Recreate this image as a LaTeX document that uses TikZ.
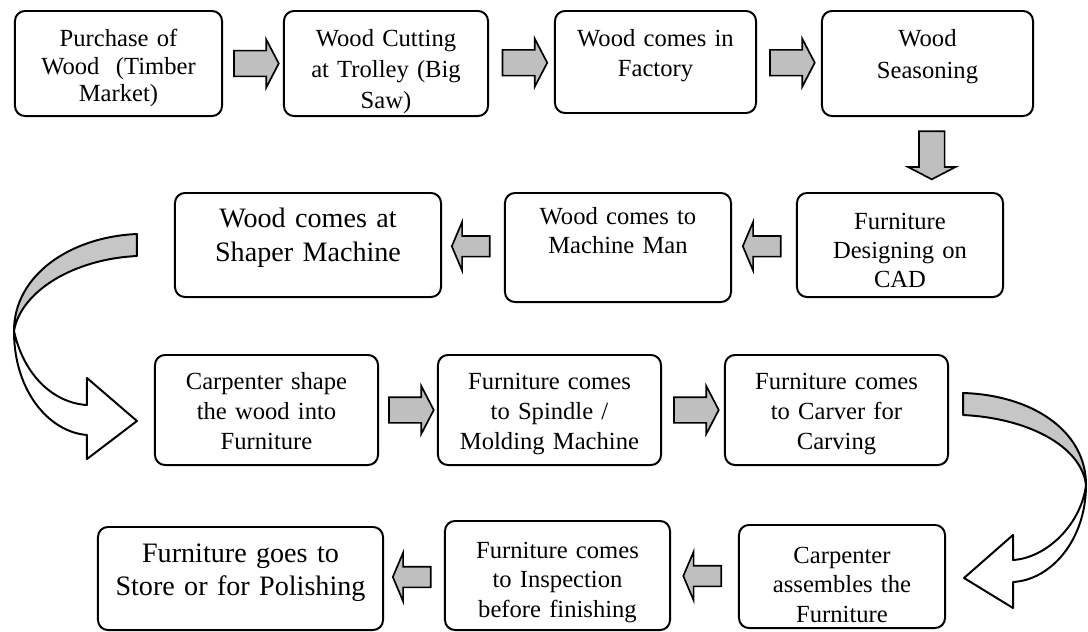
\documentclass[tikz,border=0pt]{standalone}
\usepackage{fontspec}
\setmainfont{Liberation Serif}
\usetikzlibrary{shapes.arrows,calc}

\begin{document}
\begin{tikzpicture}[x=0.025cm, y=-0.025cm,
    stepbox/.style = {draw, line width=1.4pt, rounded corners=0.25cm, fill=white,
        inner sep=0pt, align=center, font=\fontsize{17.5}{21}\selectfont},
    bigtext/.style = {font=\fontsize{20}{24}\selectfont},
    flowarrow/.style = {single arrow, draw, fill=gray!50, line width=1.2pt,
        inner sep=0.3cm, minimum height=1.12cm,
        single arrow head extend=0.275cm, single arrow tip angle=125},
    backarrow/.style = {flowarrow, shape border rotate=180, minimum height=0.95cm,
        inner sep=0.2375cm, single arrow head extend=0.35cm, single arrow tip angle=134},
    curvearrow/.style = {line width=1.4pt, line join=round}]

    \useasboundingbox (0,0) rectangle (1088,632);

    % First row
    \node[stepbox, text width=5.175cm, text height=0.9cm, text depth=1.725cm,
        font=\fontsize{17.5}{19.5}\selectfont] (purchase) at (118.5,63.5)
        {Purchase of\\Wood\ \ (Timber\\Market)};
    \node[stepbox, text width=5.1cm, text height=0.9cm, text depth=1.725cm,
        font=\fontsize{17.5}{22}\selectfont] (cutting) at (386,63.5)
        {Wood Cutting\\at Trolley (Big\\Saw)};
    \node[stepbox, text width=5.025cm, text height=0.9cm, text depth=1.65cm] (factory) at (655.5,62)
        {Wood comes in\\Factory};
    \node[stepbox, text width=5.275cm, text height=0.9cm, text depth=1.725cm,
        font=\fontsize{17.5}{22.5}\selectfont] (seasoning) at (927.5,63.5)
        {Wood\\Seasoning};

    \node[flowarrow] (a1) at ($(purchase.east)!.5!(cutting.west)$) {};
    \node[flowarrow] (a2) at ($(cutting.east)!.5!(factory.west)$) {};
    \node[flowarrow] (a3) at ($(factory.east)!.5!(seasoning.west)$) {};

    % Second row
    \node[stepbox, bigtext, text width=6.65cm, text height=0.875cm, text depth=1.725cm] (shaper) at (308,245)
        {Wood comes at\\Shaper Machine};
    \node[stepbox, text width=5.65cm, text height=0.8cm, text depth=1.925cm,
        font=\fontsize{17.5}{20}\selectfont] (machineman) at (618,247.5)
        {Wood comes to\\Machine Man};
    \node[stepbox, text width=5.15cm, text height=0.925cm, text depth=1.675cm,
        font=\fontsize{17.5}{20.5}\selectfont] (cad) at (900,245)
        {Furniture\\Designing on\\CAD};

    \node[flowarrow, shape border rotate=270, minimum height=1.2cm] (a4)
        at ($(seasoning.south)!.5!(cad.north)+(18,-2.5)$) {};
    \node[backarrow] (a5) at ($(cad.west)!.5!(machineman.east)$) {};
    \node[backarrow] (a6) at ($(machineman.west)!.5!(shaper.east)$) {};

    % Third row
    \node[stepbox, text width=5.575cm, text height=0.875cm, text depth=1.875cm] (carpenter) at (266.5,410)
        {Carpenter shape\\the wood into\\Furniture};
    \node[stepbox, text width=5.575cm, text height=0.875cm, text depth=1.875cm] (spindle) at (549.5,410)
        {Furniture comes\\to Spindle /\\Molding Machine};
    \node[stepbox, text width=5.575cm, text height=0.875cm, text depth=1.875cm] (carver) at (836.5,410)
        {Furniture comes\\to Carver for\\Carving};

    \node[flowarrow] (a8) at ($(carpenter.east)!.5!(spindle.west)$) {};
    \node[flowarrow] (a9) at ($(spindle.east)!.5!(carver.west)$) {};

    % Fourth row
    \node[stepbox, bigtext, text width=7.125cm, text height=0.875cm, text depth=1.7cm] (store) at (240.5,578.5)
        {Furniture goes to\\Store or for Polishing};
    \node[stepbox, text width=5.625cm, text height=0.925cm, text depth=1.8cm] (inspection) at (557.5,575.5)
        {Furniture comes\\to Inspection\\before finishing};
    \node[stepbox, text width=5.15cm, text height=0.95cm, text depth=1.625cm] (assembles) at (842,576.5)
        {Carpenter\\assembles the\\Furniture};

    \node[backarrow] (a11) at ($(assembles.west)!.5!(inspection.east)$) {};
    \node[backarrow] (a12) at ($(inspection.west)!.5!(store.east)$) {};

    % Curved arrow on the left
    \coordinate (lstart) at ([xshift=-0.925cm]shaper.west);
    \begin{scope}[shift={(lstart)}]
        \filldraw[curvearrow, fill=gray!45] (0,-11) .. controls (-68,-8) and (-123,31) .. (-123,86)
            .. controls (-116,46) and (-63,14) .. (0,11) -- cycle;
        \filldraw[curvearrow, fill=white] (-123,86) .. controls (-113,131) and (-83,158) .. (-50,160)
            -- (-50,133) -- (0,176) -- (-50,214) -- (-50,190)
            .. controls (-88,187) and (-123,146) .. (-123,86) -- cycle;
    \end{scope}

    % Curved arrow on the right
    \coordinate (rstart) at ([shift={(14,-6)}]carver.east);
    \begin{scope}[shift={(rstart)}]
        \filldraw[curvearrow, fill=gray!45] (0,-11) .. controls (68,-9) and (123,26) .. (123,81)
            .. controls (118,41) and (63,14) .. (0,11) -- cycle;
        \filldraw[curvearrow, fill=white] (123,81) .. controls (118,121) and (83,154) .. (50,156)
            -- (50,131) -- (1,174) -- (50,204) -- (50,178)
            .. controls (88,176) and (123,136) .. (123,81) -- cycle;
    \end{scope}
\end{tikzpicture}
\end{document}
